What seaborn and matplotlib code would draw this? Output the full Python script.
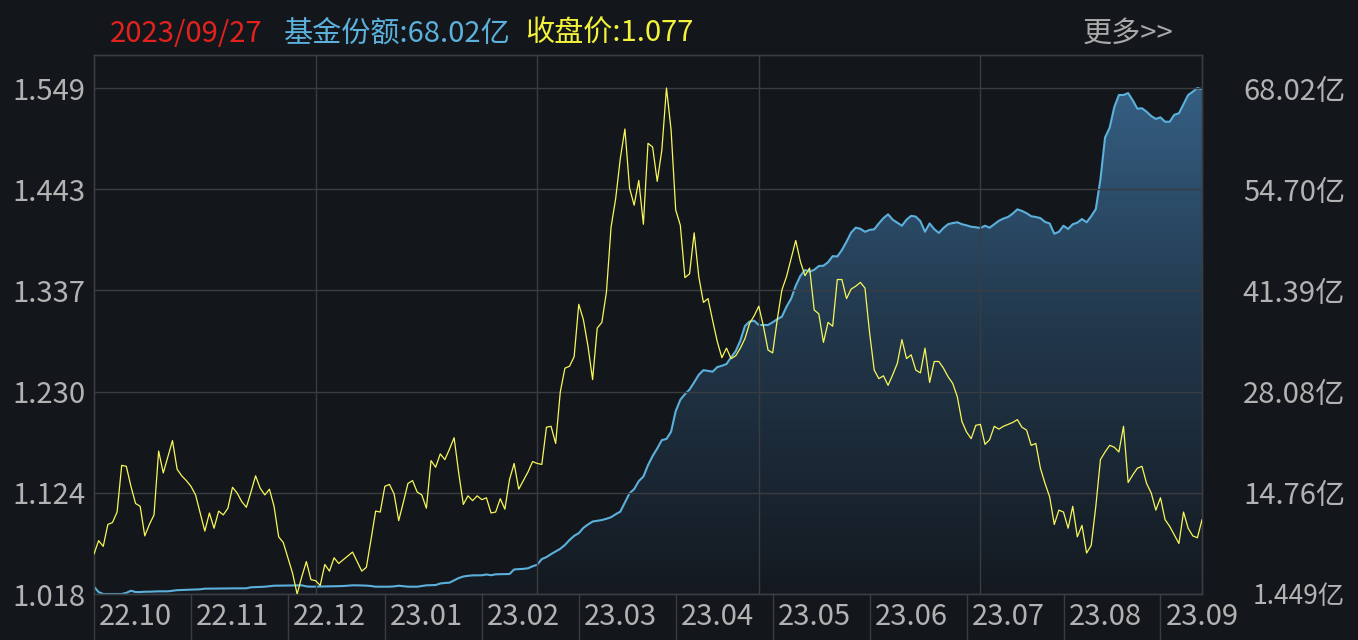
import numpy as np
import pandas as pd
import seaborn as sns
import matplotlib.pyplot as plt
from matplotlib.colors import LinearSegmentedColormap

# 收盘价 (按交易日)
price = [
    1.060, 1.074, 1.068, 1.091, 1.093, 1.104, 1.153, 1.152, 1.131, 1.113,
    1.110, 1.079, 1.091, 1.101, 1.168, 1.145, 1.162, 1.179, 1.149, 1.142,
    1.137, 1.131, 1.122, 1.103, 1.084, 1.103, 1.087, 1.105, 1.101, 1.108,
    1.130, 1.124, 1.115, 1.109, 1.125, 1.142, 1.129, 1.122, 1.128, 1.110,
    1.078, 1.072, 1.056, 1.040, 1.018, 1.036, 1.052, 1.033, 1.032, 1.027,
    1.049, 1.042, 1.056, 1.050, 1.054, 1.058, 1.062, 1.052, 1.042, 1.046,
    1.075, 1.105, 1.104, 1.131, 1.133, 1.123, 1.095, 1.114, 1.134, 1.137,
    1.125, 1.122, 1.108, 1.158, 1.151, 1.165, 1.159, 1.170, 1.182, 1.145,
    1.112, 1.121, 1.116, 1.121, 1.117, 1.119, 1.103, 1.104, 1.118, 1.107,
    1.138, 1.155, 1.128, 1.137, 1.146, 1.157, 1.155, 1.154, 1.193, 1.194,
    1.176, 1.230, 1.255, 1.257, 1.267, 1.322, 1.306, 1.278, 1.243, 1.297,
    1.303, 1.335, 1.403, 1.433, 1.475, 1.506, 1.444, 1.426, 1.452, 1.406,
    1.491, 1.487, 1.451, 1.484, 1.549, 1.505, 1.421, 1.405, 1.350, 1.354,
    1.397, 1.351, 1.324, 1.328, 1.305, 1.283, 1.266, 1.276, 1.265, 1.268,
    1.276, 1.286, 1.302, 1.310, 1.320, 1.299, 1.274, 1.271, 1.306, 1.337,
    1.351, 1.370, 1.389, 1.367, 1.352, 1.360, 1.316, 1.312, 1.282, 1.303,
    1.299, 1.348, 1.348, 1.328, 1.338, 1.341, 1.345, 1.339, 1.292, 1.253,
    1.244, 1.247, 1.237, 1.248, 1.260, 1.285, 1.265, 1.269, 1.253, 1.250,
    1.276, 1.240, 1.262, 1.262, 1.255, 1.246, 1.239, 1.225, 1.199, 1.188,
    1.181, 1.195, 1.196, 1.175, 1.180, 1.194, 1.191, 1.194, 1.196, 1.198,
    1.201, 1.193, 1.190, 1.174, 1.176, 1.150, 1.134, 1.120, 1.091, 1.106,
    1.104, 1.087, 1.110, 1.078, 1.090, 1.061, 1.069, 1.110, 1.159, 1.167,
    1.174, 1.172, 1.167, 1.194, 1.135, 1.143, 1.150, 1.152, 1.134, 1.124,
    1.106, 1.119, 1.096, 1.089, 1.080, 1.071, 1.104, 1.087, 1.079, 1.077,
    1.096,
]

# 基金份额 (亿)
share = [
    2.41, 1.70, 1.449, 1.449, 1.449, 1.449, 1.449, 1.60, 1.88, 1.71,
    1.71, 1.75, 1.75, 1.78, 1.80, 1.80, 1.80, 1.88, 1.95, 1.98,
    2.00, 2.02, 2.05, 2.07, 2.15, 2.15, 2.16, 2.17, 2.17, 2.18,
    2.19, 2.19, 2.20, 2.20, 2.33, 2.35, 2.38, 2.41, 2.48, 2.54,
    2.55, 2.56, 2.57, 2.58, 2.59, 2.59, 2.45, 2.41, 2.42, 2.43,
    2.45, 2.46, 2.47, 2.48, 2.50, 2.55, 2.59, 2.59, 2.57, 2.55,
    2.50, 2.41, 2.41, 2.41, 2.41, 2.45, 2.54, 2.48, 2.41, 2.41,
    2.41, 2.50, 2.59, 2.61, 2.63, 2.83, 2.90, 2.94, 3.25, 3.55,
    3.75, 3.84, 3.90, 3.91, 3.91, 4.02, 3.92, 4.04, 4.05, 4.07,
    4.08, 4.68, 4.72, 4.76, 4.83, 5.10, 5.30, 6.05, 6.30, 6.70,
    7.05, 7.40, 7.90, 8.55, 9.10, 9.45, 10.15, 10.60, 10.98, 11.08,
    11.18, 11.35, 11.55, 11.95, 12.28, 13.50, 14.70, 15.25, 16.30, 16.90,
    18.40, 19.60, 20.60, 21.70, 21.85, 22.80, 25.50, 27.00, 27.75, 28.35,
    29.30, 30.30, 30.90, 30.80, 30.70, 31.30, 31.48, 31.70, 32.60, 33.40,
    34.80, 36.70, 37.30, 37.40, 36.84, 36.84, 36.84, 37.20, 37.60, 37.93,
    39.25, 40.30, 42.00, 43.30, 44.08, 43.85, 44.10, 44.60, 44.64, 45.10,
    45.90, 45.85, 46.70, 47.80, 49.00, 49.65, 49.50, 49.10, 49.35, 49.43,
    50.20, 50.90, 51.40, 50.70, 50.30, 49.90, 50.70, 51.20, 51.10, 50.50,
    49.10, 50.20, 49.45, 48.95, 49.60, 50.10, 50.25, 50.35, 50.10, 49.95,
    49.77, 49.70, 49.60, 49.90, 49.64, 50.10, 50.55, 50.85, 51.05, 51.50,
    52.05, 51.85, 51.55, 51.15, 51.05, 50.90, 50.40, 50.20, 48.85, 49.10,
    49.90, 49.47, 50.10, 50.30, 50.78, 50.35, 51.15, 52.10, 56.00, 61.50,
    62.80, 65.50, 67.10, 67.10, 67.35, 66.40, 65.30, 65.35, 64.90, 64.33,
    63.95, 64.16, 63.58, 63.58, 64.50, 64.69, 65.90, 67.10, 67.53, 68.02,
    67.85,
]

day = list(range(len(price)))
month_labels = ['22.10', '22.11', '22.12', '23.01', '23.02', '23.03',
                '23.04', '23.05', '23.06', '23.07', '23.08', '23.09']
month_start = [0, 21, 42, 63, 84, 105, 126, 147, 168, 189, 210, 231]
price_ticks = [1.018, 1.124, 1.230, 1.337, 1.443, 1.549]
share_ticks = [1.449, 14.76, 28.08, 41.39, 54.70, 68.02]
share_labels = ['1.449亿', '14.76亿', '28.08亿', '41.39亿', '54.70亿', '68.02亿']
vgrid_days = [48, 96, 144, 192]

df = pd.DataFrame({'day': day, 'price': price, 'share': share})

sns.set_style('dark')
plt.rcParams['font.family'] = ['Noto Sans CJK SC', 'DejaVu Sans']

bg = '#13161a'
gridc = '#393c41'
txtc = '#b2b2b2'

fig = plt.figure(figsize=(13.58, 6.4), dpi=100, facecolor=bg)
ax = fig.add_axes([94 / 1358, 1 - 594 / 640, 1108 / 1358, 539 / 640])
ax2 = ax.twinx()
ax.set_zorder(ax2.get_zorder() + 1)
ax.patch.set_visible(False)
ax2.set_facecolor(bg)

# 上方留白比例
top_ratio = 539 / 506
p_lo, p_hi = price_ticks[0], price_ticks[-1]
s_lo, s_hi = share_ticks[0], share_ticks[-1]
p_top = p_lo + (p_hi - p_lo) * top_ratio
s_top = s_lo + (s_hi - s_lo) * top_ratio

# 基金份额 面积 + 渐变
fill = ax2.fill_between(df['day'], df['share'], s_lo, color='none', lw=0)
grad = np.linspace(0, 1, 256).reshape(-1, 1)
cmap = LinearSegmentedColormap.from_list('g', ['#141920', '#22384c', '#37648a'])
im = ax2.imshow(grad, cmap=cmap, aspect='auto', origin='lower',
                extent=[0, len(day) - 1, s_lo, s_top], zorder=1)
im.set_clip_path(fill.get_paths()[0], transform=ax2.transData)
sns.lineplot(data=df, x='day', y='share', ax=ax2, color='#5cb0dc', lw=1.5, zorder=3)

# 收盘价
sns.lineplot(data=df, x='day', y='price', ax=ax, color='#f7f75a', lw=0.9, zorder=4)

ax.set_xlim(0, len(day) - 1)
ax2.set_xlim(0, len(day) - 1)
ax.set_ylim(p_lo, p_top)
ax2.set_ylim(s_lo, s_top)

for a in (ax, ax2):
    a.set_xlabel('')
    a.set_ylabel('')
    for sp in a.spines.values():
        sp.set_color(gridc)
        sp.set_linewidth(1)

# 网格
ax.set_yticks(price_ticks)
ax.set_yticklabels([f'{t:.3f}' for t in price_ticks])
ax.grid(axis='y', color=gridc, lw=1)
ax.grid(axis='x', visible=False)
for d in vgrid_days:
    ax.axvline(d, color=gridc, lw=1)
ax.tick_params(axis='y', length=0, pad=6, labelsize=21, labelcolor=txtc)

ax2.set_yticks(share_ticks)
ax2.set_yticklabels(share_labels)
ax2.grid(False)
ax2.tick_params(axis='y', length=0, pad=103, labelsize=21, labelcolor=txtc)
for lab in ax2.get_yticklabels():
    lab.set_horizontalalignment('right')
ax2.get_yticklabels()[0].set_fontsize(19)

# 月份分隔 + 标签
ax.set_xticks(month_start)
ax.set_xticklabels([])
ax.tick_params(axis='x', which='major', bottom=True, length=34, width=1,
               color=gridc, direction='out')
ax.set_xticks([d + 9 for d in month_start], minor=True)
ax.set_xticklabels(month_labels, minor=True)
ax.tick_params(axis='x', which='minor', bottom=True, length=0, pad=6,
               labelsize=21, labelcolor=txtc)
ax2.tick_params(axis='x', length=0)

# 顶部信息
fig.text(110 / 1358, 1 - 42 / 640, '2023/09/27', color='#e3221e', fontsize=21, va='baseline')
fig.text(284 / 1358, 1 - 42 / 640, '基金份额:68.02亿', color='#5cb0dc', fontsize=21, va='baseline')
fig.text(525 / 1358, 1 - 42 / 640, '收盘价:1.077', color='#f2f23c', fontsize=21, va='baseline')
fig.text(1083 / 1358, 1 - 42 / 640, '更多>>', color='#a9a9a9', fontsize=21, va='baseline')

fig.savefig('out.png', dpi=100, facecolor=bg)
